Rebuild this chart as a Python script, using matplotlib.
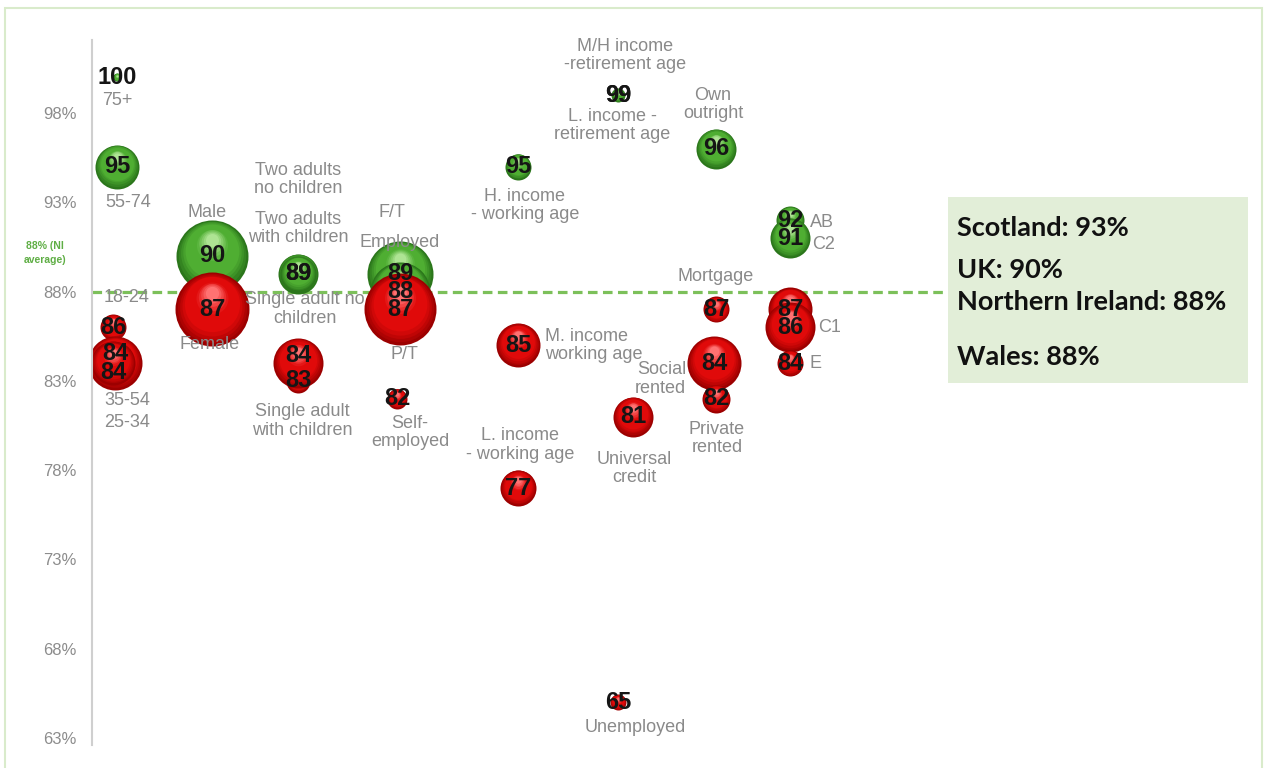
import matplotlib
matplotlib.use('Agg')
import matplotlib.pyplot as plt
from matplotlib import transforms
from matplotlib.patches import Rectangle
from matplotlib.colors import to_rgb

PX = 0.72  # points per pixel at dpi=100

# ---- data ----
groups = ['75+', '55-74', '18-24', '35-54', '25-34',
          'Male', 'Female',
          'Two adults no children', 'Two adults with children',
          'Single adult with children', 'Single adult no children',
          'F/T', 'Employed', 'P/T', 'Self-employed',
          'H. income - working age', 'M. income working age', 'L. income - working age',
          'M/H income - retirement age', 'L. income - retirement age',
          'Universal credit', 'Unemployed',
          'Own outright', 'Mortgage', 'Social rented', 'Private rented',
          'AB', 'C2', 'D', 'C1', 'E']
values = [100, 95, 86, 84, 84,
          90, 87,
          89, 89, 83, 84,
          89, 88, 87, 82,
          95, 85, 77,
          99, 99,
          81, 65,
          96, 87, 84, 82,
          92, 91, 87, 86, 84]
# column position of each bubble on the horizontal axis
column = [25, 25, 21, 23, 21,
          120, 120,
          206, 206, 206, 206,
          308, 308, 308, 305,
          426, 426, 426,
          526, 526,
          541, 526,
          624, 624, 622, 624,
          698, 698, 698, 698, 698]
# bubble radius (px)
radius = [4, 22, 13, 27, 22,
          36, 37,
          20, 18, 12, 25,
          33, 30, 36, 10,
          13, 22, 18,
          7, 6,
          20, 8,
          20, 13, 27, 14,
          14, 20, 22, 25, 13]
ni_average = 88

nations = ['Scotland', 'UK', 'Northern Ireland', 'Wales']
nation_pct = [93, 90, 88, 88]

yticks = list(range(63, 99, 5))

# ---- label layout: (text, bubble index, dx px, dy px, ha) ----
labels = [
    ('75+', 0, 0, 23, 'center'),
    ('55-74', 1, 11, 36, 'center'),
    ('18-24', 2, 14, -30, 'center'),
    ('35-54', 3, 12, 37, 'center'),
    ('25-34', 4, 14, 59, 'center'),
    ('Male', 5, -5, -43, 'center'),
    ('Female', 6, -2, 35, 'center'),
    ('Two adults\nno children', 7, 0, -94, 'center'),
    ('Two adults\nwith children', 8, 0, -45, 'center'),
    ('Single adult\nwith children', 9, 4, 40, 'center'),
    ('Single adult no\nchildren', 10, 7, -54, 'center'),
    ('F/T', 11, -8, -61, 'center'),
    ('Employed', 12, 0, -49, 'center'),
    ('P/T', 13, 4, 45, 'center'),
    ('Self-\nemployed', 14, 13, 34, 'center'),
    ('H. income\n- working age', 15, 7, 39, 'center'),
    ('M. income\nworking age', 16, 27, 0, 'left'),
    ('L. income\n- working age', 17, 2, -43, 'center'),
    ('M/H income\n-retirement age', 18, 7, -40, 'center'),
    ('L. income -\nretirement age', 19, -6, 30, 'center'),
    ('Universal\ncredit', 20, 1, 52, 'center'),
    ('Unemployed', 21, 17, 25, 'center'),
    ('Own\noutright', 22, -3, -44, 'center'),
    ('Mortgage', 23, 0, -33, 'center'),
    ('Social\nrented', 24, -28, 16, 'right'),
    ('Private\nrented', 25, 1, 40, 'center'),
    ('AB', 26, 20, 2, 'left'),
    ('C2', 27, 22, 6, 'left'),
    ('C1', 29, 28, 0, 'left'),
    ('E', 30, 20, 0, 'left'),
]
# vertical nudge (px) of the number printed on stacked bubbles
num_dy = {3: -10, 4: 9, 10: -8}

RED = [to_rgb('#9c0000'), to_rgb('#e00a0a'), to_rgb('#ff7272')]
GREEN = [to_rgb('#2b761b'), to_rgb('#4fae32'), to_rgb('#aee493')]


def lerp(a, b, t):
    return tuple(a[k] + (b[k] - a[k]) * t for k in range(3))


def ball(ax, fig, x, y, r, pal, z):
    edge, mid, hi = pal
    n = 14
    for i in range(n):
        t = i / (n - 1)
        rr = r * (1 - 0.82 * t)
        if t < 0.3:
            c = lerp(edge, mid, t / 0.3)
        elif t < 0.65:
            c = mid
        else:
            c = lerp(mid, hi, (t - 0.65) / 0.35)
        tr = transforms.offset_copy(ax.transData, fig=fig, x=0,
                                    y=t * r * 0.45 * PX, units='points')
        ax.scatter([x], [y], s=(2 * rr * PX) ** 2, color=c, transform=tr,
                   zorder=z, linewidths=0)


fig = plt.figure(figsize=(12.64, 7.68), dpi=100)
ax = fig.add_axes([92 / 1264, 23 / 768, 856 / 1264, 705 / 768])
ax.set_xlim(0, 856)
ax.set_ylim(62.61, 102.09)

ax.axhline(ni_average, color='#7cc05a', ls='--', lw=2.3, dashes=(3, 1.7), zorder=1.5)

for i, (v, x, r) in enumerate(zip(values, column, radius)):
    pal = GREEN if v >= ni_average else RED
    ball(ax, fig, x, v, r, pal, 2 + i * 0.01)

for i, (v, x) in enumerate(zip(values, column)):
    dy = num_dy.get(i, 0)
    ax.annotate(str(v), (x, v), xytext=(0, -dy * PX), textcoords='offset points',
                ha='center', va='center', fontsize=17, fontweight='bold',
                color='#151515', zorder=20, family='Liberation Sans')

for text, i, dx, dy, ha in labels:
    ax.annotate(text, (column[i], values[i]), xytext=(dx * PX, -dy * PX),
                textcoords='offset points', ha=ha, va='center', fontsize=13,
                color='#8a8a8a', zorder=21, family='Liberation Sans',
                linespacing=1.1, multialignment='center' if ha == 'center' else ha)

ax.annotate('88% (NI\naverage)', (0, ni_average), xytext=(-47 * PX, 39 * PX),
            textcoords='offset points', ha='center', va='center', fontsize=7.5,
            fontweight='bold', color='#5fae45', family='Liberation Sans',
            linespacing=1.5, annotation_clip=False)

ax.set_yticks(yticks)
ax.set_yticklabels([f'{t}%' for t in yticks], color='#8c8c8c', fontsize=12,
                   family='Liberation Sans')
ax.tick_params(axis='y', length=0, pad=11)
ax.set_xticks([])
for s in ['top', 'right', 'bottom']:
    ax.spines[s].set_visible(False)
ax.spines['left'].set_color('#cfcfcf')
ax.spines['left'].set_linewidth(1.5)

# summary box on the right
fig.add_artist(Rectangle((948 / 1264, 1 - 383 / 768), 300 / 1264, 186 / 768,
                         transform=fig.transFigure, facecolor='#e2eed8',
                         edgecolor='none', zorder=30))
line_y = [228, 270, 302, 357]
for name, pct, yy in zip(nations, nation_pct, line_y):
    fig.text(957 / 1264, 1 - yy / 768, f'{name}: {pct}%', va='center', ha='left',
             fontsize=19.5, fontweight='bold', family='Lato', color='#111111', zorder=31)

# thin frame round the panel
fig.add_artist(Rectangle((5 / 1264, -0.01), 1257 / 1264, 1 - 8 / 768 + 0.01,
                         transform=fig.transFigure, fill=False,
                         edgecolor='#d9ebcb', lw=1.5, zorder=0))

fig.savefig('out.png', dpi=100)
